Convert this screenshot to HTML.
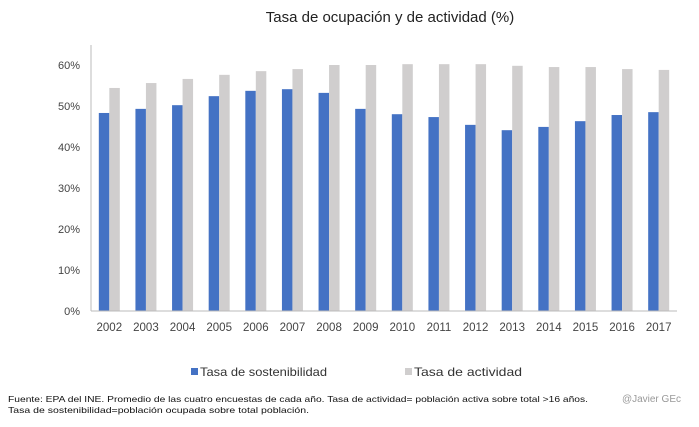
<!DOCTYPE html>
<html><head><meta charset="utf-8"><style>
body{margin:0;background:#fff;}
svg text{font-family:"Liberation Sans",sans-serif;}
</style></head><body>
<svg width="699" height="422" viewBox="0 0 699 422">
<text x="390" y="22" font-size="15" fill="#222" text-anchor="middle">Tasa de ocupación y de actividad (%)</text>
<g id="plot"></g>
<g>
<rect x="191" y="368" width="7" height="7" fill="#4472C4"/>
<text x="200" y="376" font-size="12" fill="#333" textLength="127" lengthAdjust="spacingAndGlyphs">Tasa de sostenibilidad</text>
<rect x="405" y="368" width="7" height="7" fill="#D0CECE"/>
<text x="414" y="376" font-size="12" fill="#333" textLength="108" lengthAdjust="spacingAndGlyphs">Tasa de actividad</text>
</g>
<text x="8" y="402" font-size="8.3" fill="#111" textLength="580" lengthAdjust="spacingAndGlyphs">Fuente: EPA del INE. Promedio de las cuatro encuestas de cada año. Tasa de actividad= población activa sobre total &gt;16 años.</text>
<text x="8" y="413" font-size="8.3" fill="#111" textLength="301" lengthAdjust="spacingAndGlyphs">Tasa  de sostenibilidad=población  ocupada  sobre total población.</text>
<text x="681" y="402" font-size="10" fill="#999" text-anchor="end">@Javier GEc</text>
</svg>
<script>
const years=["2002","2003","2004","2005","2006","2007","2008","2009","2010","2011","2012","2013","2014","2015","2016","2017"];
const sostenibilidad=[48.3,49.3,50.2,52.4,53.7,54.1,53.2,49.3,48.0,47.3,45.4,44.1,44.9,46.3,47.8,48.5];
const actividad=[54.4,55.6,56.6,57.6,58.5,59.0,60.0,60.0,60.2,60.2,60.2,59.8,59.5,59.5,59.0,58.8];
const yTicks=[0,10,20,30,40,50,60];
const NS="http://www.w3.org/2000/svg";
const g=document.getElementById('plot');
const x0=91,x1=677,y0=311,pxPer=4.1;
const bw=(x1-x0)/years.length;
function y(v){return y0-v*pxPer;}
function mk(t,a){const e=document.createElementNS(NS,t);for(const k in a)e.setAttribute(k,a[k]);g.appendChild(e);return e;}
yTicks.forEach(t=>{
 const e=mk('text',{x:80,y:y(t)+4,'font-size':11,fill:'#444','text-anchor':'end'});
 e.textContent=t+'%';
 
 
});
years.forEach((yr,i)=>{
 const c=x0+bw*(i+0.5);
 const b=mk('rect',{x:c-10.5,y:y(sostenibilidad[i]),width:10.5,height:sostenibilidad[i]*pxPer,fill:'#4472C4'});
 
 
 const a=mk('rect',{x:c,y:y(actividad[i]),width:10.5,height:actividad[i]*pxPer,fill:'#D0CECE'});
 
 
 const t=mk('text',{x:c,y:331,'font-size':11.5,fill:'#444','text-anchor':'middle'});
 t.textContent=yr;
 
 
});
const ax=mk('line',{x1:x0,y1:y0,x2:x1,y2:y0,stroke:'#bbb','stroke-width':1});


const ay=mk('line',{x1:x0,y1:45,x2:x0,y2:y0,stroke:'#bbb','stroke-width':1});


</script>
</body></html>
